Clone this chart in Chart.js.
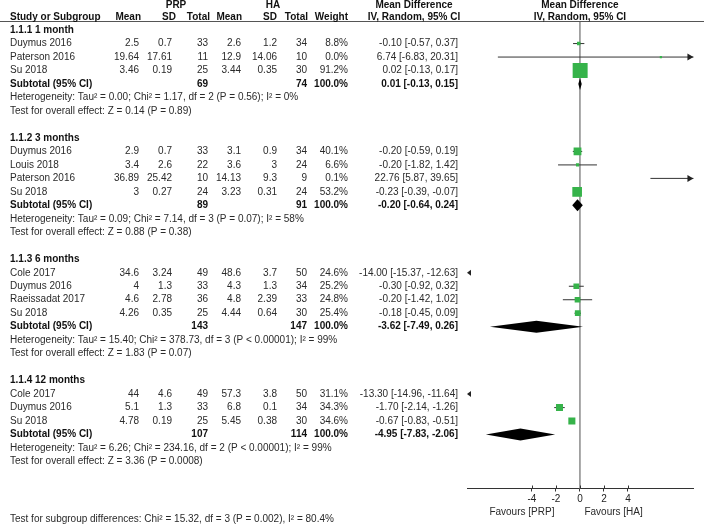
<!DOCTYPE html>
<html><head><meta charset="utf-8">
<script src="https://cdn.jsdelivr.net/npm/chart.js@4.4.1/dist/chart.umd.min.js"></script>
<style>html,body{margin:0;padding:0;background:#fff}#wrap{width:704px;height:525px;position:relative}</style>
</head><body><div id="wrap"><canvas id="c"></canvas></div>
<script>
// ---------- data ----------
const groupNames = ['1.1.1 1 month', '1.1.2 3 months', '1.1.3 6 months', '1.1.4 12 months'];
const studyGroup = [0, 0, 0, 1, 1, 1, 1, 2, 2, 2, 2, 3, 3, 3];
const studyNames = ['Duymus 2016', 'Paterson 2016', 'Su 2018',
  'Duymus 2016', 'Louis 2018', 'Paterson 2016', 'Su 2018',
  'Cole 2017', 'Duymus 2016', 'Raeissadat 2017', 'Su 2018',
  'Cole 2017', 'Duymus 2016', 'Su 2018'];
const prpMean = [2.5, 19.64, 3.46, 2.9, 3.4, 36.89, 3, 34.6, 4, 4.6, 4.26, 44, 5.1, 4.78];
const prpSD = [0.7, 17.61, 0.19, 0.7, 2.6, 25.42, 0.27, 3.24, 1.3, 2.78, 0.35, 4.6, 1.3, 0.19];
const prpN = [33, 11, 25, 33, 22, 10, 24, 49, 33, 36, 25, 49, 33, 25];
const haMean = [2.6, 12.9, 3.44, 3.1, 3.6, 14.13, 3.23, 48.6, 4.3, 4.8, 4.44, 57.3, 6.8, 5.45];
const haSD = [1.2, 14.06, 0.35, 0.9, 3, 9.3, 0.31, 3.7, 1.3, 2.39, 0.64, 3.8, 0.1, 0.38];
const haN = [34, 10, 30, 34, 24, 9, 24, 50, 34, 33, 30, 50, 34, 30];
const weights = [8.8, 0.0, 91.2, 40.1, 6.6, 0.1, 53.2, 24.6, 25.2, 24.8, 25.4, 31.1, 34.3, 34.6];
const md = [-0.10, 6.74, 0.02, -0.20, -0.20, 22.76, -0.23, -14.00, -0.30, -0.20, -0.18, -13.30, -1.70, -0.67];
const mdLo = [-0.57, -6.83, -0.13, -0.59, -1.82, 5.87, -0.39, -15.37, -0.92, -1.42, -0.45, -14.96, -2.14, -0.83];
const mdHi = [0.37, 20.31, 0.17, 0.19, 1.42, 39.65, -0.07, -12.63, 0.32, 1.02, 0.09, -11.64, -1.26, -0.51];

const subPrpN = [69, 89, 143, 107];
const subHaN = [74, 91, 147, 114];
const subMd = [0.01, -0.20, -3.62, -4.95];
const subLo = [-0.13, -0.64, -7.49, -7.83];
const subHi = [0.15, 0.24, 0.26, -2.06];
const tau2 = [0.00, 0.09, 15.40, 6.26];
const chi2 = [1.17, 7.14, 378.73, 234.16];
const hetDf = [2, 3, 3, 2];
const hetP = ['= 0.56', '= 0.07', '< 0.00001', '< 0.00001'];
const i2 = [0, 58, 99, 99];
const zVal = [0.14, 0.88, 1.83, 3.36];
const zP = ['0.89', '0.38', '0.07', '0.0008'];
const subgroupTest = 'Test for subgroup differences: Chi² = 15.32, df = 3 (P = 0.002), I² = 80.4%';
const xTicks = [-4, -2, 0, 2, 4];
const xLabelLeft = 'Favours [PRP]';
const xLabelRight = 'Favours [HA]';

// ---------- row layout ----------
const headerRow = [], studyRow = [], subRow = [], hetRow = [], testRow = [];
let r = 0;
groupNames.forEach((g, gi) => {
  headerRow[gi] = r++;
  studyGroup.forEach((sg, i) => { if (sg === gi) studyRow[i] = r++; });
  subRow[gi] = r++; hetRow[gi] = r++; testRow[gi] = r++;
  r++;
});
const Y_MIN = -0.6, Y_MAX = 34;
const X_MIN = -9.4, X_MAX = 9.45;

const FONT = '"Liberation Sans", Arial, Helvetica, sans-serif';
const GREEN = '#36b34a';
const f2 = v => v.toFixed(2);
const ciText = (m, lo, hi) => `${f2(m)} [${f2(lo)}, ${f2(hi)}]`;

function txt(ctx, s, x, y, align, bold) {
  ctx.font = (bold ? 'bold ' : '') + '10px ' + FONT;
  ctx.textAlign = align;
  ctx.textBaseline = 'middle';
  ctx.fillStyle = bold ? '#111' : '#2a2a2a';
  ctx.fillText(s, x, y);
}

// columns
const COL_NAME = 10;
const dataRight = [139, 172, 208, 241, 277, 307, 348];
const headRight = [141, 176, 210, 242, 277, 308, 348];
const CI_RIGHT = 458;
const CI_HEAD_CENTER = 414;

const bgPlugin = {
  id: 'bg',
  beforeDraw(chart) {
    const ctx = chart.ctx;
    ctx.save(); ctx.fillStyle = '#fff'; ctx.fillRect(0, 0, chart.width, chart.height); ctx.restore();
  }
};

const forestPlugin = {
  id: 'forest',
  afterDatasetsDraw(chart) {
    const ctx = chart.ctx, xs = chart.scales.x, ys = chart.scales.y, ca = chart.chartArea;
    ctx.save();
    // subtotal diamonds
    ctx.fillStyle = '#000';
    subMd.forEach((m, g) => {
      const y = ys.getPixelForValue(subRow[g]);
      const xl = xs.getPixelForValue(subLo[g]), xm = xs.getPixelForValue(m), xh = xs.getPixelForValue(subHi[g]);
      ctx.beginPath();
      ctx.moveTo(xl, y); ctx.lineTo(xm, y - 6); ctx.lineTo(xh, y); ctx.lineTo(xm, y + 6); ctx.closePath();
      ctx.fill();
    });
    // off-scale arrows
    ctx.fillStyle = '#222';
    md.forEach((m, i) => {
      const y = ys.getPixelForValue(studyRow[i]);
      if (mdHi[i] > X_MAX && mdLo[i] < X_MAX) {
        const x = ca.right;
        ctx.beginPath(); ctx.moveTo(x, y); ctx.lineTo(x - 6, y - 3.5); ctx.lineTo(x - 6, y + 3.5); ctx.closePath(); ctx.fill();
      }
      if (mdHi[i] < X_MIN) {
        const x = ca.left;
        ctx.beginPath(); ctx.moveTo(x, y); ctx.lineTo(x + 4, y - 3); ctx.lineTo(x + 4, y + 3); ctx.closePath(); ctx.fill();
      }
    });
    ctx.restore();
  },
  afterDraw(chart) {
    const ctx = chart.ctx, xs = chart.scales.x, ys = chart.scales.y, ca = chart.chartArea;
    ctx.save();
    // header line
    const hy = Math.round(ys.getPixelForValue(Y_MIN)) - 0.5;
    ctx.strokeStyle = '#555'; ctx.lineWidth = 1;
    ctx.beginPath(); ctx.moveTo(0, hy); ctx.lineTo(chart.width, hy); ctx.stroke();
    // ticks crossing above the axis
    const ay = ca.bottom;
    ctx.strokeStyle = '#333';
    xTicks.forEach(v => {
      const x = Math.round(xs.getPixelForValue(v)) + 0.5;
      ctx.beginPath(); ctx.moveTo(x, ay - 3); ctx.lineTo(x, ay); ctx.stroke();
    });
    // headers
    const yH1 = ys.getPixelForValue(-1.85), yH2 = ys.getPixelForValue(-0.95);
    txt(ctx, 'PRP', 176, yH1, 'center', true);
    txt(ctx, 'HA', 273, yH1, 'center', true);
    txt(ctx, 'Study or Subgroup', COL_NAME, yH2, 'left', true);
    ['Mean', 'SD', 'Total', 'Mean', 'SD', 'Total', 'Weight'].forEach((h, k) => txt(ctx, h, headRight[k], yH2, 'right', true));
    txt(ctx, 'Mean Difference', CI_HEAD_CENTER, yH1, 'center', true);
    txt(ctx, 'IV, Random, 95% CI', CI_HEAD_CENTER, yH2, 'center', true);
    const x0 = xs.getPixelForValue(0);
    txt(ctx, 'Mean Difference', x0, yH1, 'center', true);
    txt(ctx, 'IV, Random, 95% CI', x0, yH2, 'center', true);
    // groups
    groupNames.forEach((g, gi) => {
      txt(ctx, g, COL_NAME, ys.getPixelForValue(headerRow[gi]), 'left', true);
      const ys2 = ys.getPixelForValue(subRow[gi]);
      txt(ctx, 'Subtotal (95% CI)', COL_NAME, ys2, 'left', true);
      txt(ctx, String(subPrpN[gi]), dataRight[2], ys2, 'right', true);
      txt(ctx, String(subHaN[gi]), dataRight[5], ys2, 'right', true);
      txt(ctx, '100.0%', dataRight[6], ys2, 'right', true);
      txt(ctx, ciText(subMd[gi], subLo[gi], subHi[gi]), CI_RIGHT, ys2, 'right', true);
      txt(ctx, `Heterogeneity: Tau² = ${f2(tau2[gi])}; Chi² = ${f2(chi2[gi])}, df = ${hetDf[gi]} (P ${hetP[gi]}); I² = ${i2[gi]}%`,
        COL_NAME, ys.getPixelForValue(hetRow[gi]), 'left', false);
      txt(ctx, `Test for overall effect: Z = ${f2(zVal[gi])} (P = ${zP[gi]})`,
        COL_NAME, ys.getPixelForValue(testRow[gi]), 'left', false);
    });
    // studies
    studyNames.forEach((n, i) => {
      const y = ys.getPixelForValue(studyRow[i]);
      txt(ctx, n, COL_NAME, y, 'left', false);
      const cells = [String(prpMean[i]), String(prpSD[i]), String(prpN[i]), String(haMean[i]), String(haSD[i]), String(haN[i]), weights[i].toFixed(1) + '%'];
      cells.forEach((c, k) => txt(ctx, c, dataRight[k], y, 'right', false));
      txt(ctx, ciText(md[i], mdLo[i], mdHi[i]), CI_RIGHT, y, 'right', false);
    });
    // axis side labels
    txt(ctx, xLabelLeft, x0 - 25.5, ay + 23.5, 'right', false);
    txt(ctx, xLabelRight, x0 + 4.5, ay + 23.5, 'left', false);
    // subgroup differences
    txt(ctx, subgroupTest, COL_NAME, ay + 30.5, 'left', false);
    ctx.restore();
  }
};

// ---------- datasets ----------
const datasets = [];
datasets.push({
  label: 'effects', data: md.map((v, i) => ({ x: v, y: studyRow[i] })),
  pointStyle: 'rect', pointRadius: weights.map(w => (2.2 + 0.14 * w) / Math.SQRT2),
  backgroundColor: GREEN, borderWidth: 0, showLine: false, order: 0
});
studyNames.forEach((n, i) => datasets.push({
  label: 'ci' + i, data: [{ x: mdLo[i], y: studyRow[i] }, { x: mdHi[i], y: studyRow[i] }],
  showLine: true, borderColor: '#333', borderWidth: 1, pointRadius: 0, order: 1
}));
datasets.push({
  label: 'zero', data: [{ x: 0, y: Y_MIN }, { x: 0, y: Y_MAX }],
  showLine: true, borderColor: '#9a9a9a', borderWidth: 1, pointRadius: 0, order: 2
});

new Chart(document.getElementById('c'), {
  type: 'scatter',
  data: { datasets },
  options: {
    responsive: true, maintainAspectRatio: false, animation: false, events: [],
    layout: { padding: { left: 467, right: 9, top: 22, bottom: 0 } },
    plugins: { legend: { display: false }, tooltip: { enabled: false } },
    scales: {
      x: {
        type: 'linear', min: X_MIN, max: X_MAX, position: 'bottom',
        afterBuildTicks: s => { s.ticks = xTicks.map(v => ({ value: v })); },
        afterFit: s => { s.height = 36.5; },
        ticks: { autoSkip: false, maxRotation: 0, padding: 2, color: '#222', font: { family: FONT, size: 10 }, callback: v => String(v) },
        grid: { drawOnChartArea: false, drawTicks: true, tickLength: 3, color: '#333' },
        border: { display: true, color: '#333', width: 1 }
      },
      y: { type: 'linear', reverse: true, min: Y_MIN, max: Y_MAX, display: false }
    }
  },
  plugins: [bgPlugin, forestPlugin]
});
</script>
</body></html>
